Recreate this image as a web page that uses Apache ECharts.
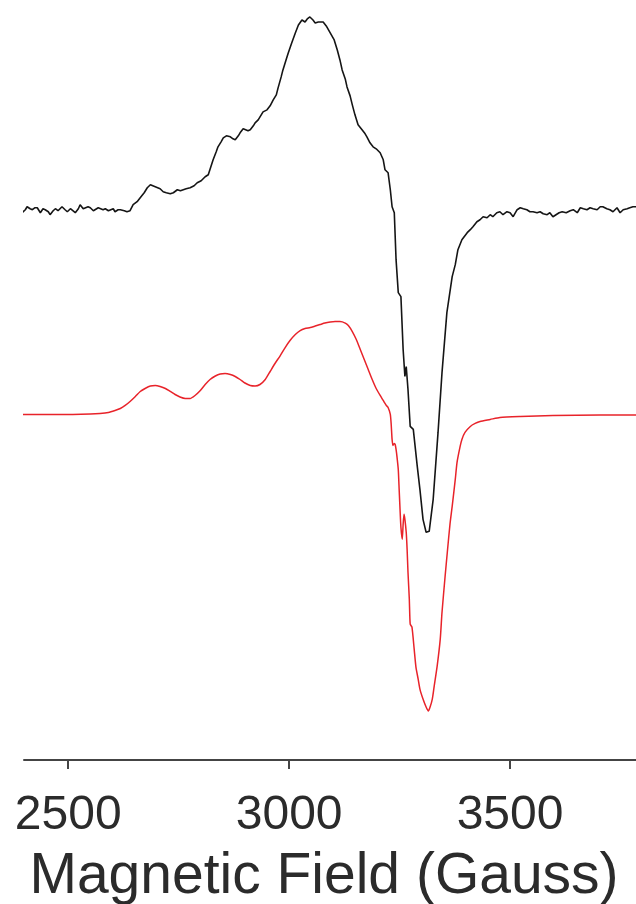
<!DOCTYPE html>
<html>
<head>
<meta charset="utf-8">
<script src="https://cdn.jsdelivr.net/npm/echarts@6/dist/echarts.min.js"></script>
<style>html,body{margin:0;padding:0;background:#fff;}#c{width:636px;height:904px;}</style>
</head>
<body>
<div id="c"></div>
<script>
// Magnetic field (Gauss) and signal (arbitrary units) — experimental spectrum (black)
const expField = [2396,2403,2407,2414,2419,2425,2430,2437,2443,2448,2455,2459,2466,2471,2477,2486,2493,2498,2505,2509,2516,2523,2527,2534,2538,2545,2550,2557,2561,2568,2572,2579,2584,2591,2595,2602,2606,2613,2618,2627,2633,2640,2647,2656,2663,2672,2679,2686,2690,2697,2701,2708,2715,2722,2731,2738,2747,2754,2758,2767,2776,2785,2792,2801,2810,2817,2821,2828,2835,2839,2846,2851,2858,2867,2873,2878,2885,2889,2896,2900,2907,2912,2919,2923,2930,2934,2941,2950,2957,2964,2971,2975,2982,2986,2993,2998,3005,3014,3021,3029,3036,3041,3047,3054,3059,3066,3070,3077,3084,3093,3102,3109,3115,3120,3127,3131,3138,3143,3149,3156,3165,3172,3176,3183,3190,3197,3206,3213,3217,3224,3229,3233,3238,3242,3244,3247,3253,3258,3262,3265,3269,3274,3281,3290,3296,3303,3310,3317,3326,3337,3346,3357,3369,3376,3382,3391,3403,3410,3416,3425,3432,3439,3448,3455,3461,3470,3477,3484,3493,3500,3507,3516,3523,3530,3538,3545,3552,3561,3568,3575,3584,3590,3597,3604,3611,3618,3627,3636,3643,3652,3659,3666,3674,3681,3688,3697,3704,3710,3719,3726,3733,3742,3749,3756,3765,3771,3778,3785];
const expSignal = [-3,0,3,1,0,2,2,-3,1,0,-2,-5,-1,1,-1,3,0,-2,1,2,-3,1,5,1,0,3,2,-1,-1,2,3,0,1,-1,0,1,-2,0,0,-1,-2,-1,5,8,12,17,22,25,24,23,22,21,18,17,16,17,20,19,20,21,22,24,27,29,33,35,37,50,58,63,68,72,74,73,71,70,74,77,81,82,79,80,84,87,90,92,98,100,104,110,115,122,133,140,150,157,166,177,185,190,188,191,193,190,187,188,187,188,184,177,170,160,150,140,131,123,114,105,95,85,80,76,73,67,63,61,57,50,40,37,20,3,-3,-50,-50,-83,-87,-140,-167,-157,-180,-217,-220,-257,-280,-310,-323,-322,-290,-223,-163,-103,-67,-55,-40,-30,-23,-20,-17,-12,-10,-7,-8,-5,-7,-3,-2,-5,-2,-3,-7,0,2,1,0,-2,-2,-3,-2,-4,-5,-3,-7,-5,-3,-2,-3,-1,0,-3,2,1,0,2,1,0,3,3,1,0,-2,2,-3,0,1,2,3,3];

// Simulated spectrum (red)
const simField = [2396,2482,2550,2572,2591,2606,2618,2629,2640,2652,2663,2674,2686,2697,2708,2720,2731,2742,2753,2765,2776,2787,2799,2810,2821,2833,2844,2855,2867,2878,2889,2900,2912,2923,2934,2946,2957,2968,2980,2991,3002,3014,3025,3036,3048,3059,3070,3081,3093,3104,3115,3127,3134,3143,3152,3161,3170,3179,3188,3197,3206,3213,3217,3220,3224,3229,3231,3233,3235,3238,3240,3242,3244,3247,3249,3251,3253,3256,3258,3260,3262,3265,3267,3269,3272,3274,3278,3283,3287,3292,3296,3303,3310,3315,3319,3324,3328,3335,3342,3346,3353,3358,3364,3369,3376,3380,3387,3391,3398,3410,3421,3432,3455,3477,3523,3597,3704,3785];
const simSignal = [0,0,0.5,1,2,4,6,9,13,18,23,26,28.5,29,28,26,23,20,17.5,16,16,19,24,30,35,38.5,40.5,41,40,38,35,31.5,29,28.5,30,35,43,51,59,67,74,80,84,86,87,88.5,90,91.5,92.5,93,93,91.5,89,83,75,65,55,45,35,26,19,14,11,9,7,0,-10,-25,-31,-29,-30,-35,-42,-55,-75,-95,-113,-125,-110,-100,-105,-118,-135,-158,-185,-210,-213,-235,-253,-265,-275,-285,-293,-297,-293,-285,-273,-252,-225,-198,-162,-138,-110,-92,-65,-48,-32,-25,-18,-12,-9,-7,-5,-3,-2,-1,-0.5,-0.5];

const xTicks = [2500, 3000, 3500];
const expOffset = 205;   // vertical stacking offset of the experimental trace
const xTitle = 'Magnetic Field (Gauss)';

const expData = expField.map((f, i) => [f, expSignal[i] + expOffset]);
const simData = simField.map((f, i) => [f, simSignal[i]]);

const chart = echarts.init(document.getElementById('c'), null, {renderer: 'canvas'});
chart.setOption({
  animation: false,
  backgroundColor: '#ffffff',
  grid: {left: 24, right: 0, top: 0, bottom: 144, containLabel: false, outerBoundsMode: 'none'},
  xAxis: {
    type: 'value', min: 2400, max: 3785,
    name: xTitle, nameLocation: 'middle', nameGap: 89,
    nameTextStyle: {fontFamily: 'Liberation Sans', fontSize: 57, color: '#2b2b2b', padding: [0, 12, 0, 0]},
    axisLine: {show: true, onZero: false, lineStyle: {color: '#444', width: 2}},
    axisTick: {show: true, inside: false, length: 9, customValues: xTicks, lineStyle: {color: '#444', width: 2}},
    axisLabel: {show: true, customValues: xTicks, margin: 32, fontFamily: 'Liberation Sans', fontSize: 48, color: '#2b2b2b',
                formatter: v => String(v)},
    splitLine: {show: false}
  },
  yAxis: {
    type: 'value', min: -346, max: 415, show: false, splitLine: {show: false}
  },
  series: [
    {type: 'line', data: expData, showSymbol: false, smooth: false,
     lineStyle: {color: '#151515', width: 1.6}, clip: true},
    {type: 'line', data: simData, showSymbol: false, smooth: 0.2,
     lineStyle: {color: '#e8232a', width: 1.5}, clip: true}
  ]
});
</script>
</body>
</html>
